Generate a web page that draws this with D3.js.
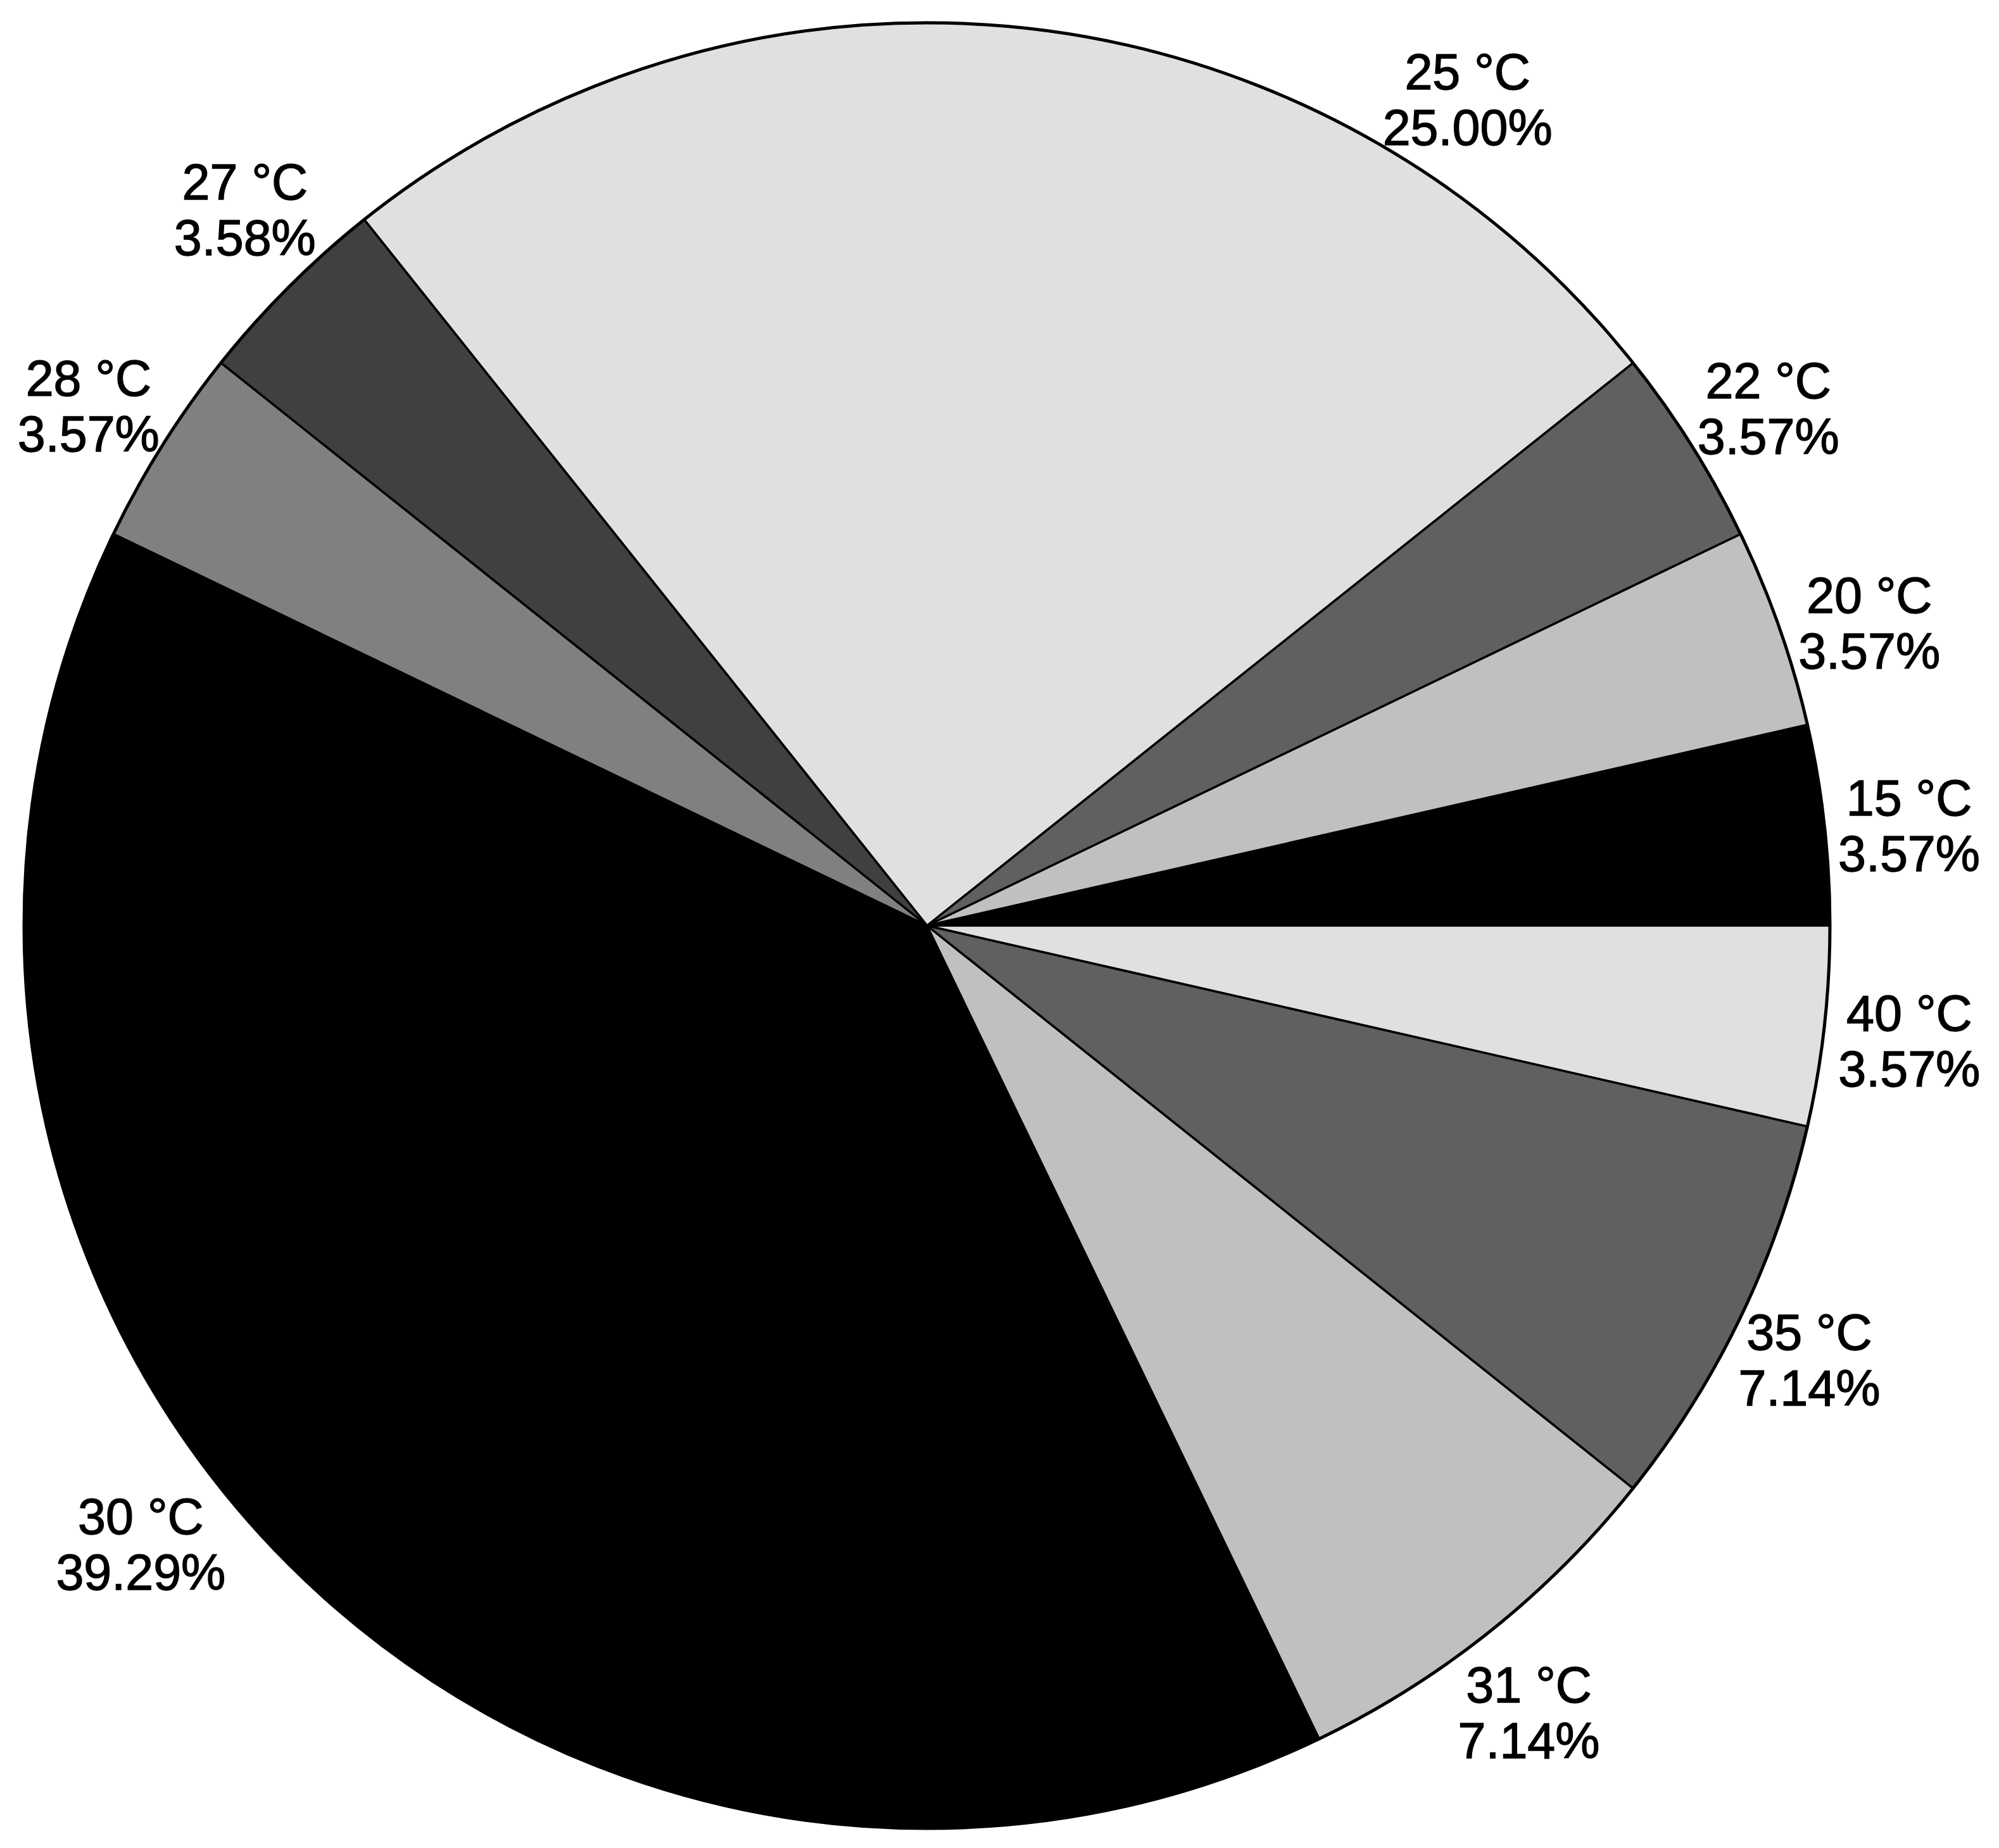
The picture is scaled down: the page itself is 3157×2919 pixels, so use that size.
<!DOCTYPE html>
<html>
<head>
<meta charset="utf-8">
<script src="https://cdn.jsdelivr.net/npm/d3@7"></script>
<style>
  body { margin: 0; background: #fff; }
  text { font-family: "Liberation Sans", Arial, sans-serif; }
</style>
</head>
<body>
<div id="chart"></div>
<script>
// Data (slices in drawing order, counter-clockwise from 3 o'clock)
var temps = ["15 °C", "20 °C", "22 °C", "25 °C", "27 °C", "28 °C", "30 °C", "31 °C", "35 °C", "40 °C"];
var shares = [3.57, 3.57, 3.57, 25.00, 3.58, 3.57, 39.29, 7.14, 7.14, 3.57];
var fills = ["#000000", "#c0c0c0", "#606060", "#e0e0e0", "#404040", "#808080",
             "#000000", "#c0c0c0", "#606060", "#e0e0e0"];

// Label placement (angle in degrees counter-clockwise from 3 o'clock, distance from centre)
var labelAngle = [5.8, 17.8, 31.6, 56.8, 133.6, 148.2, 218.2, -52.6, -26.2, -6.7];
var labelDist = [1559, 1563, 1560, 1559, 1562, 1558, 1580, 1565, 1553, 1562];

// Set the dimensions of the canvas
var width = 3157,
    height = 2919,
    cx = 1464,
    cy = 1462,
    radius = 1426;

var svg = d3.select("#chart")
    .append("svg")
        .attr("width", width)
        .attr("height", height)
    .append("g")
        .attr("transform", "translate(" + cx + "," + cy + ")");

var data = temps.map(function(t, i) {
    return {temp: t, share: shares[i], fill: fills[i], i: i};
});

// Pie runs counter-clockwise starting at 3 o'clock
var pie = d3.pie()
    .sort(null)
    .value(function(d) { return d.share; })
    .startAngle(Math.PI / 2)
    .endAngle(Math.PI / 2 - 2 * Math.PI);

var arc = d3.arc()
    .innerRadius(0)
    .outerRadius(radius);

// Add the slices
svg.selectAll("path.slice")
    .data(pie(data))
    .enter().append("path")
    .attr("class", "slice")
    .attr("d", arc)
    .style("fill", function(d) { return d.data.fill; })
    .style("stroke", "#000")
    .style("stroke-width", 3.5)
    .style("stroke-linejoin", "round");

// Outer rim
svg.append("circle")
    .attr("r", radius)
    .style("fill", "none")
    .style("stroke", "#000")
    .style("stroke-width", 5);

// Add the labels
var labels = svg.selectAll("text.label")
    .data(data)
    .enter().append("text")
    .attr("class", "label")
    .attr("text-anchor", "middle")
    .style("font-size", "79px")
    .style("fill", "#000")
    .style("stroke", "#000")
    .style("stroke-width", 1.4)
    .attr("transform", function(d) {
        var a = labelAngle[d.i] * Math.PI / 180;
        var x = labelDist[d.i] * Math.cos(a),
            y = -labelDist[d.i] * Math.sin(a);
        return "translate(" + x + "," + y + ")";
    });

labels.append("tspan")
    .attr("x", 0)
    .attr("y", -16)
    .text(function(d) { return d.temp; });

labels.append("tspan")
    .attr("x", 0)
    .attr("y", 72)
    .text(function(d) { return d.share.toFixed(2) + "%"; });
</script>
</body>
</html>
